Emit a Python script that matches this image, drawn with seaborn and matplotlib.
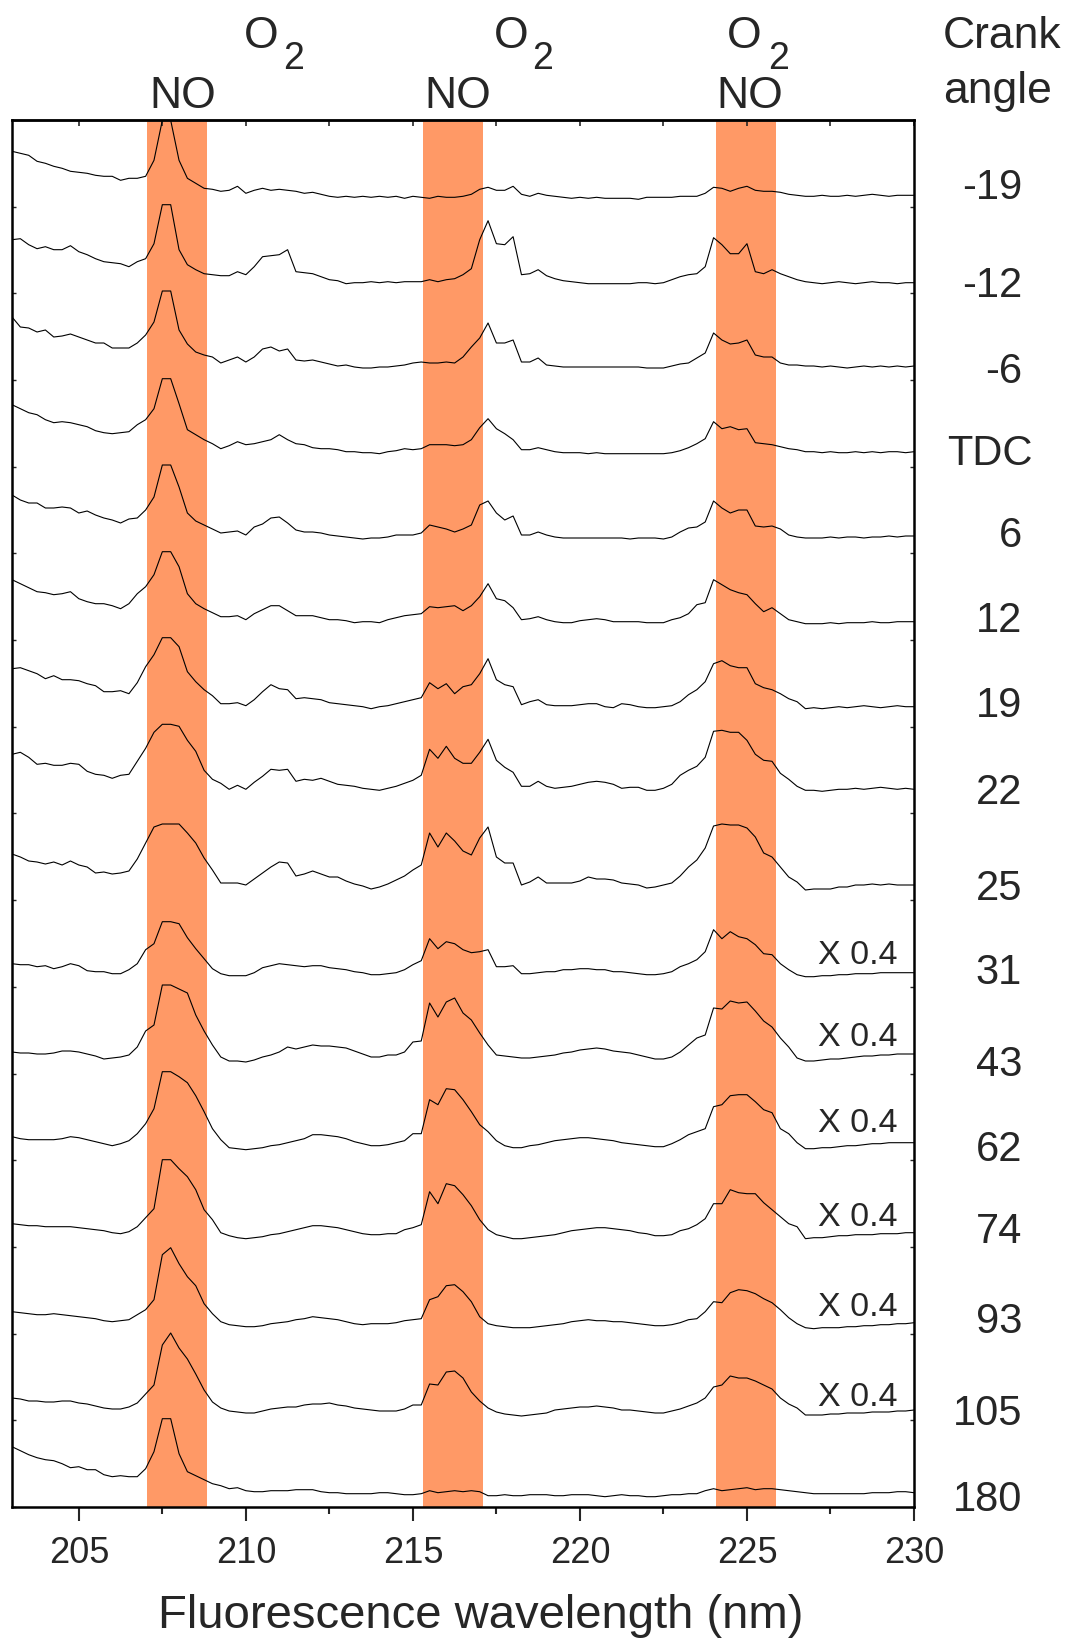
import numpy as np
import pandas as pd
import matplotlib
matplotlib.use("Agg")
import matplotlib.pyplot as plt
from matplotlib.ticker import MultipleLocator
import seaborn as sns

# ---------------- data ----------------
wavelength = [round(203.0 + 0.25 * i, 2) for i in range(109)]   # nm grid, 203 .. 230

crank_angles = ["-19", "-12", "-6", "TDC", "6", "12", "19", "22",
                "25", "31", "43", "62", "74", "93", "105", "180"]
trace_offsets = [1311.7, 1224.3, 1141.0, 1055.3, 971.0, 885.3, 800.3, 717.7,
                 622.0, 534.3, 453.0, 364.3, 274.3, 184.3, 97.0, 14.3]
scaled_angles = ["31", "43", "62", "74", "93", "105"]   # shown "X 0.4"

band_starts = [207.05, 215.31, 224.08]
band_ends = [208.83, 217.09, 225.87]

spec_m19 = [44,42,40,34,32,29,27,24,23,22,20,19,19,15,17,17,
            19,35,75,75,35,17,12,7,6,4,5,9,
            2,5,7,5,6,5,4,2,3,1,-1,-2,
            -1,-2,-1,-2,-1,-2,-1,-3,-1,-2,-3,-1,
            -2,-2,-1,1,6,8,5,5,9,1,-1,2,
            0,-1,-2,-3,-2,-3,-2,-3,-3,-3,-3,-4,
            -2,-2,-2,-2,-1,-1,-1,2,8,7,4,7,
            9,5,4,4,3,1,0,-1,-1,0,-1,-1,
            0,-1,0,1,0,-1,0,0,0]
spec_m12 = [43,44,38,34,36,33,33,37,31,28,24,21,20,19,16,21,
            24,39,78,78,33,18,13,9,8,7,7,11,
            8,16,26,27,28,33,11,10,9,6,3,2,
            -1,0,0,1,0,1,0,1,1,1,3,1,
            3,4,8,14,43,62,39,38,46,8,9,13,
            7,4,2,1,0,-1,-1,-1,-1,-1,-1,0,
            0,-1,0,3,6,8,9,16,45,38,29,29,
            39,11,9,13,9,6,3,1,0,-1,0,1,
            0,-1,0,1,0,0,-1,0,0]
spec_m6 = [49,39,38,34,36,29,30,32,29,26,23,23,18,18,18,23,
           31,44,75,75,36,22,14,11,9,3,6,9,
           4,9,17,19,15,17,6,5,6,4,2,0,
           1,-1,-2,-2,-1,-1,0,1,3,4,3,3,
           4,3,9,19,28,43,23,23,26,4,4,8,
           1,0,-1,-1,-1,-1,-1,-1,-1,-1,-1,-1,
           -2,-2,-2,0,2,3,8,13,33,26,22,23,
           26,11,9,9,3,1,1,0,0,-1,0,-1,
           -2,-1,0,-1,0,-1,0,-1,0]
spec_tdc = [47,43,39,37,32,29,30,29,27,25,21,19,18,19,20,27,
            32,43,73,73,48,22,17,12,8,3,6,10,
            7,8,10,12,17,12,8,7,4,3,3,2,
            0,0,-1,-1,-2,0,1,3,2,3,7,7,
            7,6,7,12,24,33,23,18,12,2,2,4,
            2,0,-1,-1,-1,-2,-1,-2,-2,-2,-2,-2,
            -2,-2,-2,-1,1,4,8,13,30,23,25,22,
            23,9,8,7,5,3,2,0,0,-1,0,-1,
            -1,0,-1,0,-1,0,0,-1,0]
spec_p6 = [41,36,33,33,28,28,29,28,23,25,21,18,16,13,17,18,
           26,39,71,71,49,23,15,11,7,3,4,5,
           1,9,12,18,19,13,6,4,4,3,1,0,
           -1,-2,-3,-2,-2,-1,1,1,1,3,11,9,
           7,4,7,11,31,35,23,16,20,1,1,4,
           1,-1,-2,-2,-2,-2,-2,-2,-2,-2,-3,-2,
           -2,-2,-3,-1,4,8,9,14,35,28,23,26,
           26,10,9,10,7,1,-1,-2,-2,-2,-1,-2,
           -1,-1,-2,-1,-1,0,-1,0,0]
spec_p12 = [42,38,34,30,29,27,28,30,23,20,18,18,16,13,18,28,
            35,47,70,70,55,28,18,13,9,5,5,6,
            2,8,12,16,16,11,6,6,6,4,2,2,
            1,-1,0,0,-1,2,4,6,7,8,15,14,
            15,16,11,16,25,38,23,21,14,2,3,5,
            2,0,-1,-1,1,2,3,2,0,0,0,0,
            -1,-1,-1,2,4,8,17,19,42,37,32,29,
            27,18,10,14,8,2,0,-2,-2,-2,-1,-2,
            -1,-1,-1,0,-1,-1,0,0,0]
spec_p19 = [38,39,36,33,28,31,27,27,26,23,21,15,15,16,13,24,
            40,52,69,69,60,35,25,17,11,3,3,4,
            1,7,15,22,18,17,8,9,8,7,4,3,
            2,1,0,-2,0,1,3,5,7,9,24,18,
            23,13,20,22,33,48,27,22,20,2,5,7,
            2,1,1,1,2,3,3,0,-1,3,2,0,
            -1,-1,0,1,5,12,17,25,43,46,41,39,
            39,23,19,17,13,8,5,-2,-1,-2,-1,0,
            -1,0,1,0,-1,0,1,0,0]
spec_p22 = [35,37,32,25,26,24,24,26,25,18,15,14,11,14,15,28,
            41,57,65,65,63,49,38,19,10,6,0,4,
            0,7,13,20,19,20,8,10,9,11,8,5,
            4,3,1,0,-1,1,3,6,9,14,40,31,
            43,31,26,26,37,50,29,22,17,3,3,8,
            3,1,2,3,5,7,8,7,5,1,2,2,
            -1,-1,1,5,14,19,23,32,58,59,57,57,
            49,35,29,28,16,10,3,-1,-1,-2,-1,0,
            0,1,0,1,2,1,0,1,0]
spec_p25 = [31,28,24,23,21,23,20,24,20,18,12,13,11,12,14,26,
            42,58,61,61,61,52,42,27,15,2,2,2,
            0,6,12,18,23,22,9,11,14,11,8,8,
            4,1,-1,-4,-2,1,5,9,15,20,52,38,
            52,44,34,30,47,58,28,22,22,0,3,8,
            2,2,2,2,4,8,6,6,5,2,1,0,
            -3,-2,0,2,9,18,25,37,59,61,60,60,
            57,48,32,28,18,8,3,-5,-4,-4,-4,-2,
            -2,0,0,1,0,1,0,0,0]
spec_p31 = [9,8,8,6,7,4,6,9,7,2,1,1,-1,-1,3,9,
            23,29,51,51,49,35,24,14,4,-1,-3,-3,
            -3,0,5,7,9,8,7,6,7,7,5,4,
            3,1,0,-2,-2,-1,0,3,8,12,34,24,
            31,29,23,20,21,23,6,6,7,-1,-1,0,
            1,1,3,3,4,4,3,3,1,1,0,-1,
            -2,-2,-1,1,6,9,13,21,43,34,41,36,
            34,28,19,18,9,3,-2,-4,-4,-3,-3,-2,
            -2,-1,-1,-1,0,0,0,0,0]
spec_p43 = [2,1,1,0,0,1,3,3,2,0,-2,-5,-4,-3,-1,7,
            23,29,69,69,65,61,39,23,9,-3,-7,-7,
            -8,-6,-3,-1,2,7,5,7,9,8,8,7,
            6,3,0,-3,-3,-1,-1,2,12,13,51,37,
            52,56,41,34,21,9,-1,-2,-3,-4,-4,-3,
            -2,-1,1,2,4,5,6,5,3,2,1,-1,
            -3,-5,-5,-3,2,9,16,19,46,45,53,51,
            52,43,33,27,16,7,-4,-7,-7,-6,-5,-5,
            -4,-3,-2,-2,-1,-1,0,0,0]
spec_p62 = [6,4,3,3,3,3,4,6,5,3,1,-1,-3,-1,2,9,
            19,34,71,71,66,60,47,31,14,3,-5,-6,
            -7,-6,-5,-3,-2,0,2,4,8,8,7,6,
            4,1,-1,-3,-3,-2,0,2,9,9,43,38,
            54,53,43,31,18,11,2,-3,-5,-5,-3,-2,
            0,2,3,4,5,5,4,3,2,0,-1,-2,
            -3,-4,-4,-1,3,8,11,14,36,38,47,48,
            48,41,33,30,14,9,0,-6,-6,-5,-5,-4,
            -3,-3,-2,-1,-1,0,0,0,0]
spec_p74 = [9,8,7,7,6,6,6,6,5,4,3,2,0,-1,1,6,
            15,24,73,73,64,56,43,23,13,0,-3,-5,
            -6,-5,-4,-2,-1,1,3,5,7,7,6,5,
            3,1,-1,-2,-2,-1,-1,3,5,8,41,29,
            49,47,38,27,13,3,-2,-4,-6,-6,-5,-4,
            -3,-2,0,2,3,4,5,5,4,3,2,0,
            -1,-3,-3,-2,2,4,8,14,29,29,43,40,
            39,39,30,23,16,9,6,-6,-5,-5,-4,-3,
            -3,-2,-2,-2,-1,-1,-1,0,0]
spec_p93 = [11,10,9,8,8,9,8,7,6,5,4,2,1,2,3,8,
            13,23,68,75,59,46,37,19,9,1,-2,-3,
            -4,-4,-3,-1,0,1,3,4,6,5,4,3,
            1,-1,-2,-1,-1,-1,0,2,3,4,23,26,
            37,38,31,21,6,-1,-3,-4,-5,-5,-5,-4,
            -3,-2,-1,1,2,3,2,2,1,1,0,-1,
            -2,-3,-3,-2,0,3,4,11,21,20,30,33,
            32,29,24,20,13,5,-1,-5,-6,-5,-5,-5,
            -4,-4,-3,-3,-2,-2,-1,-1,0]
spec_p105 = [12,11,9,9,8,8,9,9,7,6,4,2,1,1,3,7,
             16,25,65,77,62,51,36,20,8,2,-1,-2,
             -3,-3,-1,1,2,3,3,5,6,6,7,5,
             4,2,1,0,-1,-1,-1,1,5,5,26,25,
             38,39,32,18,9,2,-2,-4,-5,-6,-5,-4,
             -3,0,1,2,3,3,4,3,2,0,0,-1,
             -2,-3,-3,-1,1,4,7,12,23,25,34,32,
             32,29,25,21,12,6,2,-5,-5,-5,-4,-4,
             -3,-3,-3,-2,-2,-2,-1,-1,0]
spec_p180 = [46,42,38,35,33,32,29,25,26,23,23,18,16,17,16,16,
             24,41,74,74,39,21,17,13,9,7,4,5,
             2,1,1,2,2,2,3,3,3,1,0,0,
             -1,-1,-1,-1,0,0,-1,-2,-2,-1,2,0,
             1,2,1,2,1,-3,-3,-2,-3,-3,-2,-2,
             -2,-3,-3,-2,-2,-2,-3,-4,-3,-2,-3,-3,
             -4,-4,-3,-2,-2,-1,-1,2,4,2,3,4,
             5,3,4,4,3,2,1,0,-1,-1,-1,-1,
             -1,-1,-1,0,0,0,1,1,0]

spectra = [spec_m19, spec_m12, spec_m6, spec_tdc, spec_p6, spec_p12, spec_p19, spec_p22,
           spec_p25, spec_p31, spec_p43, spec_p62, spec_p74, spec_p93, spec_p105, spec_p180]

# ---------------- build table ----------------
rows = []
for angle, off, spec in zip(crank_angles, trace_offsets, spectra):
    for wl, v in zip(wavelength, spec):
        rows.append({"wavelength": wl, "signal": off + v, "angle": angle})
df = pd.DataFrame(rows)

# ---------------- figure ----------------
sns.set_style("ticks")
plt.rcParams["font.family"] = ["Liberation Sans", "DejaVu Sans"]

W, H = 1072, 1641
fig = plt.figure(figsize=(W / 100, H / 100), dpi=100)
ax = fig.add_axes([12 / W, 1 - 1507 / H, (914 - 12) / W, (1507 - 120) / H])

for s, e in zip(band_starts, band_ends):
    ax.axvspan(s, e, color="#FF9966", lw=0, zorder=0)

sns.lineplot(data=df, x="wavelength", y="signal", units="angle", estimator=None,
             sort=False, color="black", linewidth=0.8, legend=False, ax=ax, zorder=3)

ax.set_xlim(203, 230)
ax.set_ylim(0, 1387)
ax.set_xlabel("")
ax.set_ylabel("")

for sp in ax.spines.values():
    sp.set_linewidth(1.8)
    sp.set_color("black")
    sp.set_visible(True)

ax.xaxis.set_major_locator(MultipleLocator(5))
ax.xaxis.set_minor_locator(MultipleLocator(2.5))
ax.tick_params(axis="x", which="major", direction="out", length=10, width=1.5,
               labelsize=26, pad=11, bottom=True, top=False)
ax.tick_params(axis="x", which="minor", direction="out", length=5, width=1.5,
               bottom=True, top=False)
ax.set_yticks(np.arange(0, 1387, 86.7))
ax.tick_params(axis="y", which="major", direction="in", length=3, width=1.0,
               left=True, right=True, labelleft=False, labelright=False)

top = ax.secondary_xaxis("top")
top.xaxis.set_major_locator(MultipleLocator(2.5))
top.tick_params(direction="in", length=4, width=1.2, labeltop=False)
top.spines["top"].set_linewidth(1.8)

def fx(x):
    return x / W

def fy(y):
    return 1 - y / H

# species labels over the bands
for xno in [183, 458, 750]:
    fig.text(fx(xno), fy(97), "NO", fontsize=32, ha="center", va="center")
for xo, x2 in [(261, 294), (511, 543), (744, 779)]:
    fig.text(fx(xo), fy(37), "O", fontsize=32, ha="center", va="center")
    fig.text(fx(x2), fy(59), "2", fontsize=27, ha="center", va="center")

fig.text(fx(943), fy(37), "Crank", fontsize=32, ha="left", va="center")
fig.text(fx(943), fy(92), "angle", fontsize=32, ha="left", va="center")

label_y = [188, 286, 372, 454, 536, 621, 706, 793, 889, 973, 1065, 1150, 1232, 1322, 1414, 1500]
for lab, y in zip(crank_angles, label_y):
    xr = 1033 if lab == "TDC" else 1022
    fig.text(fx(xr), fy(y), lab, fontsize=30, ha="right", va="center")

scale_y = [955, 1038, 1123, 1217, 1308, 1397]
for y in scale_y:
    fig.text(fx(818), fy(y), "X 0.4", fontsize=24.5, ha="left", va="center")

fig.text(fx(481), fy(1616), "Fluorescence wavelength (nm)", fontsize=34,
         ha="center", va="center")

fig.savefig("out.png", dpi=100)
